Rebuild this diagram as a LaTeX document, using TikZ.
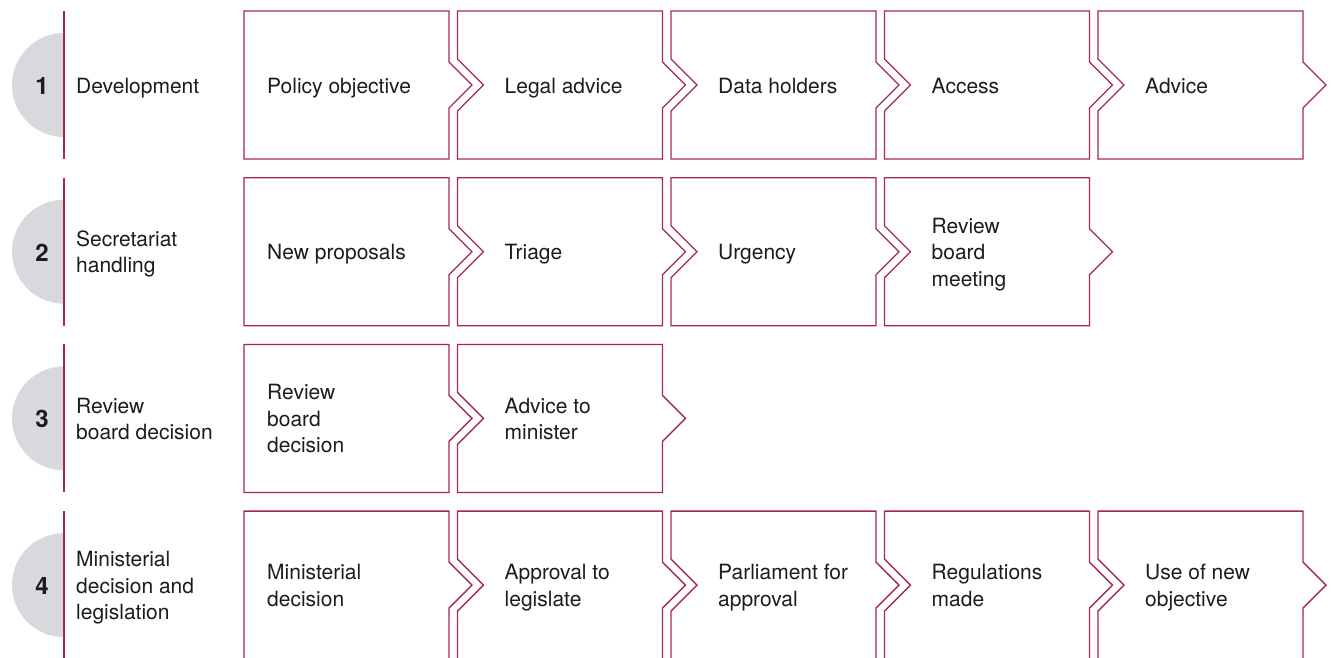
\documentclass[tikz,border=0pt]{standalone}
\usepackage{fontspec}
\setmainfont{TeX Gyre Heros}

\definecolor{stepred}{RGB}{164,42,74}
\definecolor{discgrey}{RGB}{217,216,222}
\definecolor{inktext}{RGB}{28,28,28}

% one text line with a uniform strut
\newcommand\tline[1]{\strut#1}

\tikzset{
  outline/.style={draw=stepred, line width=1.3pt, line join=miter},
  steptext/.style={anchor=west, align=left, text=inktext, inner sep=0pt,
    font=\fontsize{21}{26.5}\selectfont},
  stagelabel/.style={anchor=west, align=left, text=inktext, inner sep=0pt,
    font=\fontsize{21}{26.5}\selectfont},
  stagenum/.style={text=inktext, inner sep=0pt,
    font=\fontsize{24}{28}\selectfont\bfseries},
}

% Stage header: #1 row (0..3), #2 number, #3 label
\newcommand\stagehead[3]{%
  \pgfmathsetmacro\hdT{11+166.7*#1}%
  \pgfmathsetmacro\hdB{\hdT+148}%
  \pgfmathsetmacro\hdC{\hdT+74}%
  \fill[discgrey] (64,\hdC-52) arc[start angle=270, end angle=90, radius=52] -- cycle;
  \draw[outline] (64,\hdT) -- (64,\hdB);
  \node[stagenum] (num#2) at (42,\hdC+1) {#2};
  \node[stagelabel] (stage#2) at (76,\hdC+2.7) {#3};
}

% Process step: #1 row (0..3), #2 column (0..4), #3 name, #4 text
\newcommand\procstep[4]{%
  \pgfmathsetmacro\bxL{244+213.5*#2}%
  \pgfmathsetmacro\bxR{\bxL+205}%
  \pgfmathsetmacro\bxT{11+166.7*#1}%
  \pgfmathsetmacro\bxB{\bxT+148}%
  \pgfmathsetmacro\bxC{\bxT+74}%
  \ifnum#2=0
    \draw[outline] (\bxL,\bxT) -- (\bxR,\bxT) -- (\bxR,\bxC-23) -- (\bxR+23,\bxC)
      -- (\bxR,\bxC+23) -- (\bxR,\bxB) -- (\bxL,\bxB) -- cycle;
    \node[steptext] (#3) at (\bxL+23,\bxC+2.7) {#4};
  \else
    \draw[outline] (\bxL,\bxT) -- (\bxR,\bxT) -- (\bxR,\bxC-23) -- (\bxR+23,\bxC)
      -- (\bxR,\bxC+23) -- (\bxR,\bxB) -- (\bxL,\bxB) -- (\bxL,\bxC+26)
      -- (\bxL+26,\bxC) -- (\bxL,\bxC-26) -- cycle;
    \node[steptext] (#3) at (\bxL+47,\bxC+2.7) {#4};
  \fi
}

\begin{document}
\begin{tikzpicture}[x=1pt,y=-1pt]
  \useasboundingbox (0,0) rectangle (1333,657);
  \clip (0,0) rectangle (1333,657);

  % Stage 1
  \stagehead{0}{1}{\tline{Development}}
  \procstep{0}{0}{policy}{\tline{Policy objective}}
  \procstep{0}{1}{legal}{\tline{Legal advice}}
  \procstep{0}{2}{holders}{\tline{Data holders}}
  \procstep{0}{3}{access}{\tline{Access}}
  \procstep{0}{4}{advice}{\tline{Advice}}

  % Stage 2
  \stagehead{1}{2}{\tline{Secretariat}\\\tline{handling}}
  \procstep{1}{0}{proposals}{\tline{New proposals}}
  \procstep{1}{1}{triage}{\tline{Triage}}
  \procstep{1}{2}{urgency}{\tline{Urgency}}
  \procstep{1}{3}{meeting}{\tline{Review}\\\tline{board}\\\tline{meeting}}

  % Stage 3
  \stagehead{2}{3}{\tline{Review}\\\tline{board decision}}
  \procstep{2}{0}{boarddec}{\tline{Review}\\\tline{board}\\\tline{decision}}
  \procstep{2}{1}{tominister}{\tline{Advice to}\\\tline{minister}}

  % Stage 4
  \stagehead{3}{4}{\tline{Ministerial}\\\tline{decision and}\\\tline{legislation}}
  \procstep{3}{0}{ministerial}{\tline{Ministerial}\\\tline{decision}}
  \procstep{3}{1}{approval}{\tline{Approval to}\\\tline{legislate}}
  \procstep{3}{2}{parliament}{\tline{Parliament for}\\\tline{approval}}
  \procstep{3}{3}{regulations}{\tline{Regulations}\\\tline{made}}
  \procstep{3}{4}{newobj}{\tline{Use of new}\\\tline{objective}}
\end{tikzpicture}
\end{document}
